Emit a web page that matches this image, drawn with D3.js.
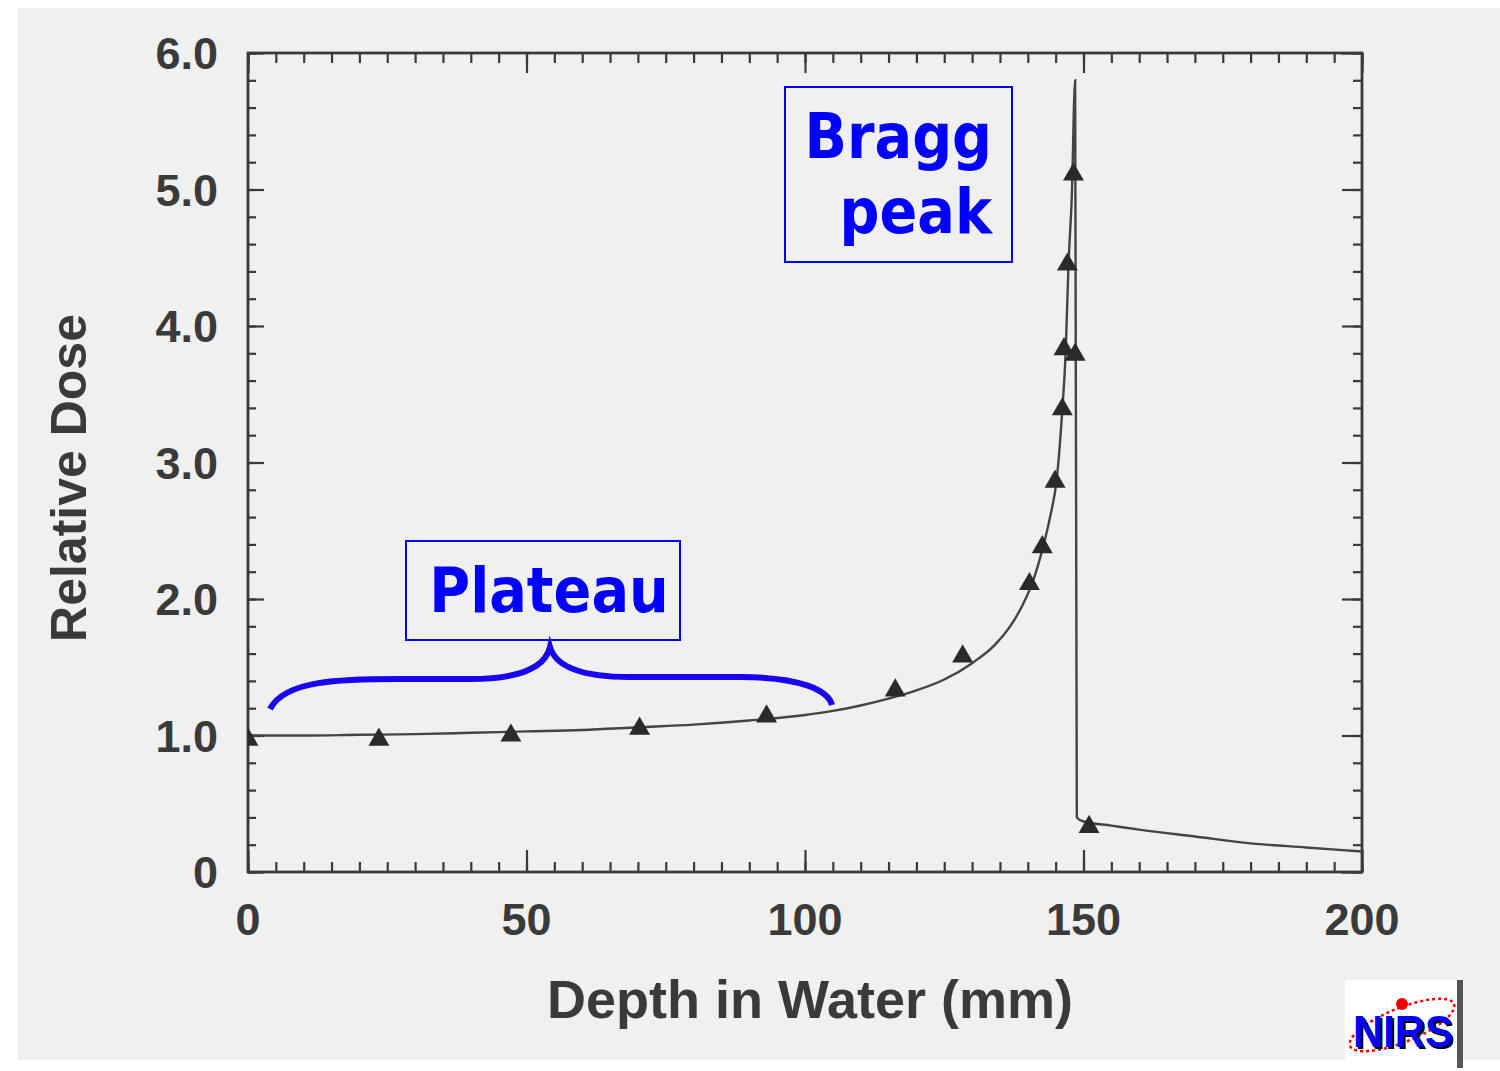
<!DOCTYPE html>
<html><head><meta charset="utf-8">
<script src="https://cdn.jsdelivr.net/npm/d3@7"></script>
<style>html,body{margin:0;padding:0;background:#fff;}svg{display:block;}</style>
</head><body>
<svg id="c" width="1500" height="1071"></svg>
<script>
// ---- data ----
const curveDepth = [0,10,20,30,40,50,60,70,80,90,100,105,110,115,120,125,130,134,137,139,141,142.6,144,145.2,146.2,146.8,147.3,147.9,148.5,148.8,150,155,160,170,180,190,200];
const curveDose  = [1.00,1.00,1.005,1.01,1.02,1.03,1.04,1.06,1.08,1.11,1.15,1.18,1.22,1.27,1.33,1.41,1.53,1.66,1.81,1.95,2.14,2.36,2.60,2.88,3.39,3.81,4.44,4.95,5.80,0.40,0.37,0.34,0.31,0.26,0.21,0.18,0.15];
const pointDepth = [0,23.5,47.2,70.3,93.1,116.2,128.3,140.3,142.6,144.9,146.2,146.5,147.1,148.2,148.5,151.0];
const pointDose  = [0.97,0.97,1.00,1.05,1.14,1.33,1.58,2.11,2.38,2.86,3.39,3.83,4.45,5.11,3.79,0.33];
const xTicks = [0,50,100,150,200];
const xTickLabels = ["0","50","100","150","200"];
const yTicks = [0,1,2,3,4,5,6];
const yTickLabels = ["0","1.0","2.0","3.0","4.0","5.0","6.0"];
const xTitle = "Depth in Water (mm)";
const yTitle = "Relative Dose";

// ---- layout ----
const L = 248, R = 1362, T = 53, B = 872;
const svg = d3.select("#c");
svg.append("rect").attr("width",1500).attr("height",1071).attr("fill","#fff");
svg.append("rect").attr("x",18).attr("y",8).attr("width",1482).attr("height",1052).attr("fill","#f0f0f0");

const x = d3.scaleLinear().domain([0,200]).range([L,R]);
const y = d3.scaleLinear().domain([0,6]).range([B,T]);
const ink = "#3a3a3a";

const xMinor = d3.range(0,201,5);
const yMinor = d3.range(0,6.001,0.2);

function styleAxis(g){
  g.select(".domain").remove();
  g.selectAll("line").attr("stroke",ink).attr("stroke-width",2.2);
  g.selectAll("text").remove();
}
svg.append("g").attr("transform",`translate(0,${B})`)
  .call(d3.axisTop(x).tickValues(xMinor).tickSize(10)).call(styleAxis);
svg.append("g").attr("transform",`translate(0,${B})`)
  .call(d3.axisTop(x).tickValues(xTicks).tickSize(22)).call(styleAxis);
svg.append("g").attr("transform",`translate(0,${T})`)
  .call(d3.axisBottom(x).tickValues(xMinor).tickSize(10)).call(styleAxis);
svg.append("g").attr("transform",`translate(0,${T})`)
  .call(d3.axisBottom(x).tickValues(xTicks).tickSize(20)).call(styleAxis);
svg.append("g").attr("transform",`translate(${L},0)`)
  .call(d3.axisRight(y).tickValues(yMinor).tickSize(8)).call(styleAxis);
svg.append("g").attr("transform",`translate(${L},0)`)
  .call(d3.axisRight(y).tickValues(yTicks).tickSize(16)).call(styleAxis);
svg.append("g").attr("transform",`translate(${R},0)`)
  .call(d3.axisLeft(y).tickValues(yMinor).tickSize(9)).call(styleAxis);
svg.append("g").attr("transform",`translate(${R},0)`)
  .call(d3.axisLeft(y).tickValues(yTicks).tickSize(20)).call(styleAxis);

svg.append("rect").attr("x",L).attr("y",T).attr("width",R-L).attr("height",B-T)
  .attr("fill","none").attr("stroke",ink).attr("stroke-width",2.8);

const lblFont = "'Liberation Sans', Arial, sans-serif";
svg.append("g").selectAll("text").data(xTicks).join("text")
  .attr("x",d=>x(d)).attr("y",935).attr("text-anchor","middle")
  .attr("font-family",lblFont).attr("font-weight","bold").attr("font-size",45)
  .attr("fill",ink).text((d,i)=>xTickLabels[i]);
svg.append("g").selectAll("text").data(yTicks).join("text")
  .attr("x",218).attr("y",d=>y(d)+16).attr("text-anchor","end")
  .attr("font-family",lblFont).attr("font-weight","bold").attr("font-size",45)
  .attr("fill",ink).text((d,i)=>yTickLabels[i]);

svg.append("text").attr("x",810).attr("y",1018).attr("text-anchor","middle")
  .attr("font-family",lblFont).attr("font-weight","bold").attr("font-size",54)
  .attr("fill",ink).text(xTitle);
svg.append("text").attr("transform","translate(86,478) rotate(-90)").attr("text-anchor","middle")
  .attr("font-family",lblFont).attr("font-weight","bold").attr("font-size",50)
  .attr("fill",ink).text(yTitle);

const curvePts = curveDepth.map((d,i)=>[d,curveDose[i]]);
const line = d3.line().x(d=>x(d[0])).y(d=>y(d[1])).curve(d3.curveMonotoneX);
svg.append("path").attr("d",line(curvePts)).attr("fill","none")
  .attr("stroke","#444").attr("stroke-width",2.4);

const tri = d3.symbol().type(d3.symbolTriangle).size(190);
svg.append("defs").append("clipPath").attr("id","pc").append("rect")
  .attr("x",L).attr("y",T).attr("width",R-L).attr("height",B-T);
svg.append("g").attr("clip-path","url(#pc)").selectAll("path").data(pointDepth).join("path")
  .attr("d",tri).attr("transform",(d,i)=>`translate(${x(d)},${y(pointDose[i])})`)
  .attr("fill","#2a2a2a");

const annFont = "'Comic Sans MS', 'DejaVu Sans Condensed', 'DejaVu Sans', sans-serif";
const blue = "#0000ff";
svg.append("rect").attr("x",785).attr("y",87).attr("width",227).attr("height",175)
  .attr("fill","none").attr("stroke",blue).attr("stroke-width",2);
svg.append("text").attr("x",992).attr("y",158).attr("text-anchor","end")
  .attr("font-family",annFont).attr("font-weight","bold").attr("font-size",62)
  .attr("font-stretch","condensed").attr("fill",blue).text("Bragg");
svg.append("text").attr("x",992).attr("y",233).attr("text-anchor","end")
  .attr("font-family",annFont).attr("font-weight","bold").attr("font-size",62)
  .attr("font-stretch","condensed").attr("fill",blue).text("peak");
svg.append("rect").attr("x",406).attr("y",541).attr("width",274).attr("height",99)
  .attr("fill","none").attr("stroke",blue).attr("stroke-width",2);
svg.append("text").attr("x",549).attr("y",612).attr("text-anchor","middle")
  .attr("font-family",annFont).attr("font-weight","bold").attr("font-size",62)
  .attr("font-stretch","condensed").attr("fill",blue).text("Plateau");

svg.append("path")
  .attr("d","M270,709 C285,680 340,679 400,679 L470,679 C520,679 545,668 550,647 C556,668 585,677 630,677 L740,677 C800,677 828,690 832,705")
  .attr("fill","none").attr("stroke","#1a00f0").attr("stroke-width",6);

const lg = svg.append("g");
lg.append("rect").attr("x",1345).attr("y",980).attr("width",113).attr("height",88).attr("fill","#fff");
lg.append("rect").attr("x",1457).attr("y",980).attr("width",6).attr("height",88).attr("fill","#555");
lg.append("ellipse").attr("cx",1402).attr("cy",1025).attr("rx",56).attr("ry",17)
  .attr("transform","rotate(-22,1402,1025)").attr("fill","none").attr("stroke","#e00")
  .attr("stroke-width",2.5).attr("stroke-dasharray","3,3");
lg.append("circle").attr("cx",1402).attr("cy",1004).attr("r",6).attr("fill","#e00");
lg.append("text").attr("x",1405).attr("y",1049).attr("text-anchor","middle")
  .attr("font-family",lblFont).attr("font-weight","bold").attr("font-size",44)
  .attr("textLength",100).attr("lengthAdjust","spacingAndGlyphs")
  .attr("fill","#000").text("NIRS");
lg.append("text").attr("x",1403).attr("y",1047).attr("text-anchor","middle")
  .attr("font-family",lblFont).attr("font-weight","bold").attr("font-size",44)
  .attr("textLength",100).attr("lengthAdjust","spacingAndGlyphs")
  .attr("fill","#0000ff").text("NIRS");
</script>
</body></html>
